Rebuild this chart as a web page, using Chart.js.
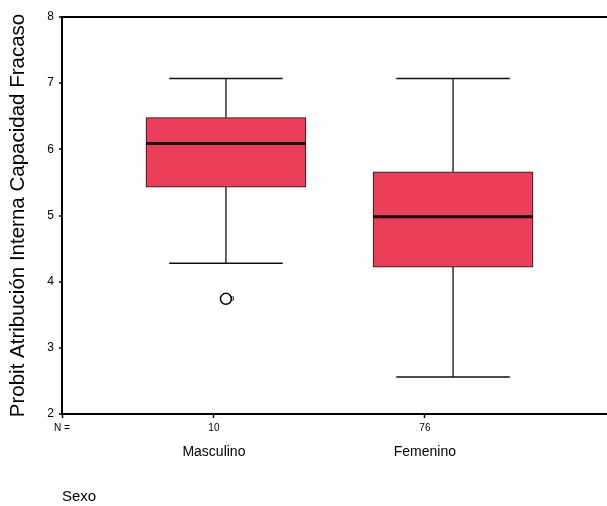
<!DOCTYPE html>
<html><head><meta charset="utf-8">
<script src="https://cdn.jsdelivr.net/npm/chart.js@4.4.1/dist/chart.umd.min.js"></script>
<style>html,body{margin:0;padding:0;background:#fff;}canvas{display:block;}</style>
</head><body>
<canvas id="c" width="607" height="506"></canvas>
<script>
// ---- data ----
const categories = ['Masculino', 'Femenino'];
const counts = ['10', '76'];
const positions = [1, 2];
const whiskerLow = [4.28, 2.56];
const q1 = [5.43, 4.22];
const median = [6.09, 4.98];
const q3 = [6.48, 5.66];
const whiskerHigh = [7.07, 7.07];
const outlierGroup = [0];
const outlierValues = [3.74];
const outlierLabels = ['9'];
const yTicks = [2, 3, 4, 5, 6, 7, 8];

const FONT = "'Liberation Sans', Arial, sans-serif";
const BOX_HALF = 0.352;   // half box width in x units
const CAP_HALF = 0.25;    // half cap width in x units

const boxData = positions.map((p, i) => ({ x: p, y: [q1[i], q3[i]] }));
const medianData = [];
const whiskerData = [];
const capData = [];
positions.forEach((p, i) => {
  medianData.push({ x: p - BOX_HALF, y: median[i] }, { x: p + BOX_HALF, y: median[i] }, { x: p, y: null });
  whiskerData.push({ x: p, y: q3[i] }, { x: p, y: whiskerHigh[i] }, { x: p, y: null });
  whiskerData.push({ x: p, y: q1[i] }, { x: p, y: whiskerLow[i] }, { x: p, y: null });
  capData.push({ x: p - CAP_HALF, y: whiskerHigh[i] }, { x: p + CAP_HALF, y: whiskerHigh[i] }, { x: p, y: null });
  capData.push({ x: p - CAP_HALF, y: whiskerLow[i] }, { x: p + CAP_HALF, y: whiskerLow[i] }, { x: p, y: null });
});
const outlierData = outlierValues.map((v, i) => ({ x: positions[outlierGroup[i]], y: v }));

const outlierLabelPlugin = {
  id: 'outlierLabels',
  afterDatasetsDraw(chart) {
    const { ctx } = chart;
    const xs = chart.scales.x, ys = chart.scales.y;
    ctx.save();
    ctx.font = "8px " + FONT;
    ctx.fillStyle = '#000';
    ctx.textBaseline = 'middle';
    ctx.textAlign = 'left';
    outlierValues.forEach((v, i) => {
      const px = xs.getPixelForValue(positions[outlierGroup[i]]);
      const py = ys.getPixelForValue(v);
      ctx.fillText(outlierLabels[i], px + 4, py);
    });
    ctx.restore();
  }
};

new Chart(document.getElementById('c'), {
  data: {
    datasets: [
      { type: 'scatter', data: outlierData, order: 0, xAxisID: 'x', yAxisID: 'y',
        pointStyle: 'circle', pointRadius: 5.5, pointBorderWidth: 1.5,
        pointBorderColor: '#000', pointBackgroundColor: '#fff' },
      { type: 'line', data: medianData, order: 1, xAxisID: 'x', yAxisID: 'y',
        borderColor: '#111', borderWidth: 3, pointRadius: 0, spanGaps: false, fill: false },
      { type: 'line', data: capData, order: 2, xAxisID: 'x', yAxisID: 'y',
        borderColor: '#111', borderWidth: 1.5, pointRadius: 0, spanGaps: false, fill: false },
      { type: 'line', data: whiskerData, order: 3, xAxisID: 'x', yAxisID: 'y',
        borderColor: '#111', borderWidth: 1.3, pointRadius: 0, spanGaps: false, fill: false },
      { type: 'bar', data: boxData, order: 4, xAxisID: 'x', yAxisID: 'y',
        backgroundColor: 'rgb(235, 62, 88)', borderColor: '#111', borderWidth: 1,
        borderSkipped: false, barThickness: 160, grouped: false }
    ]
  },
  options: {
    responsive: false,
    animation: false,
    events: [],
    layout: { autoPadding: false, padding: { top: 17, right: 0, left: 0, bottom: 0 } },
    plugins: { legend: { display: false }, tooltip: { enabled: false } },
    scales: {
      x: { type: 'linear', display: false, min: 0.278, max: 2.678, offset: false },
      xn: {
        type: 'linear', position: 'bottom', weight: 1, min: 0.28, max: 2.863, offset: false,
        afterBuildTicks: s => { s.ticks = [{ value: s.min }].concat(positions.map(v => ({ value: v }))); },
        afterFit: s => { s.height = 22; s.paddingLeft = 0; s.paddingRight = 0; },
        ticks: {
          autoSkip: false, maxRotation: 0, padding: 4, color: '#000',
          font: { family: FONT, size: 10 },
          callback: (v, i) => i === 0 ? 'N =' : counts[i - 1]
        },
        grid: { display: true, drawOnChartArea: false, tickLength: 4, tickColor: '#000', tickWidth: 1.5 },
        border: { display: true, color: '#000', width: 2 }
      },
      xs: {
        type: 'linear', position: 'bottom', weight: 2, min: 0.28, max: 2.863, offset: false,
        afterBuildTicks: s => { s.ticks = positions.map(v => ({ value: v })); },
        afterFit: s => { s.height = 70; s.paddingLeft = 0; s.paddingRight = 0; },
        ticks: {
          autoSkip: false, maxRotation: 0, padding: 0, color: '#000',
          font: { family: FONT, size: 14 },
          callback: (v, i) => categories[i]
        },
        grid: { display: false },
        border: { display: false },
        title: { display: true, text: 'Sexo', align: 'start', color: '#000',
          font: { family: FONT, size: 15 }, padding: { top: 0, bottom: 0 } }
      },
      y: {
        type: 'linear', position: 'left', min: 2, max: 8,
        afterBuildTicks: s => { s.ticks = yTicks.map(v => ({ value: v })); },
        afterFit: s => { s.width = 62; },
        ticks: { padding: 5, color: '#000', font: { family: FONT, size: 12 } },
        grid: {
          display: true, drawOnChartArea: true, tickLength: 3, tickColor: '#000', tickWidth: 1.5,
          color: c => (c.tick && c.tick.value === 8) ? '#000' : 'rgba(0,0,0,0)',
          lineWidth: c => (c.tick && c.tick.value === 8) ? 2 : 0
        },
        border: { display: true, color: '#000', width: 2 },
        title: { display: true, text: 'Probit Atribución Interna Capacidad Fracaso', color: '#000',
          font: { family: FONT, size: 20.5 }, padding: { top: 6, bottom: 0 } }
      }
    }
  },
  plugins: [outlierLabelPlugin]
});
</script>
</body></html>
